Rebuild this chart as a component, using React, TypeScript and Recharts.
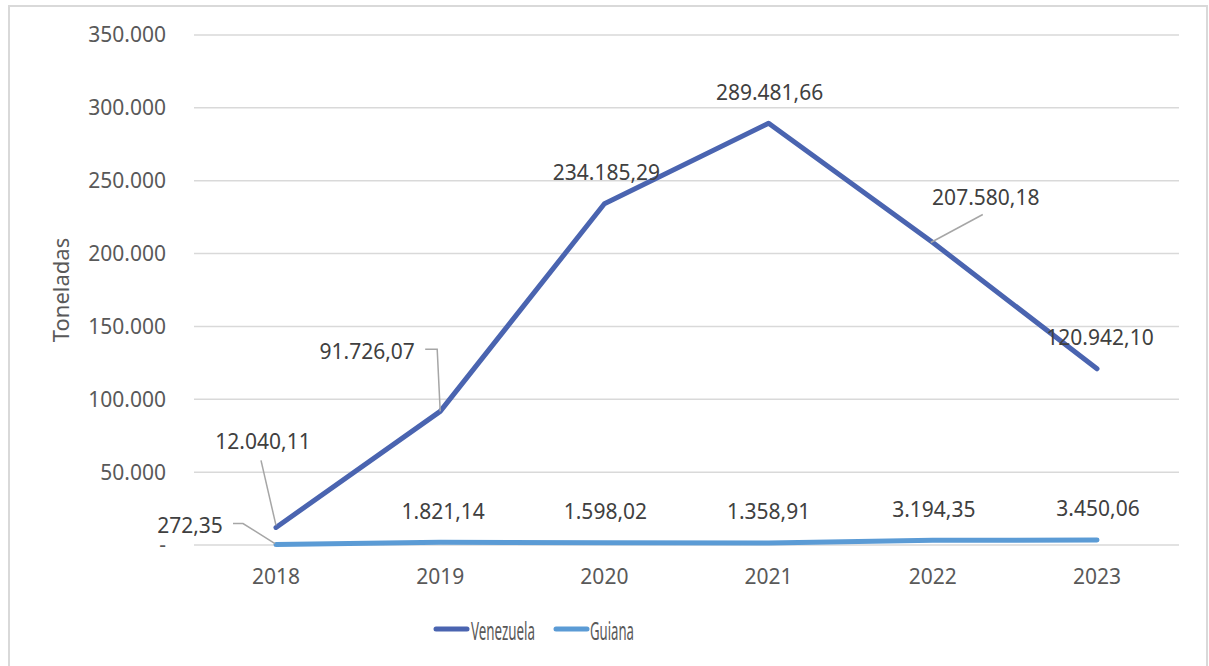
import React from "react";
import {
  LineChart,
  Line,
  XAxis,
  YAxis,
  CartesianGrid,
  Legend,
} from "recharts";

const years = ["2018", "2019", "2020", "2021", "2022", "2023"];
const venezuela = [12040.11, 91726.07, 234185.29, 289481.66, 207580.18, 120942.1];
const guiana = [272.35, 1821.14, 1598.02, 1358.91, 3194.35, 3450.06];
const yTicks = [0, 50000, 100000, 150000, 200000, 250000, 300000, 350000];

const data = years.map((y, i) => ({
  year: y,
  Venezuela: venezuela[i],
  Guiana: guiana[i],
}));

const FONT = "'Noto Sans', 'Open Sans', sans-serif";
const VEN_COLOR = "#4A64B0";
const GUI_COLOR = "#5B9BD5";

// label placement relative to the point: [dx, dy, leader path points]
type Place = { dx: number; dy: number; leader?: number[][] };
const venPlace: Place[] = [
  { dx: -13, dy: -86, leader: [[0, -2], [-15, -67]] },
  { dx: -73, dy: -60, leader: [[-15, -62], [-3, -62], [0, 0]] },
  { dx: 2, dy: -32 },
  { dx: 1, dy: -31 },
  { dx: 53, dy: -46, leader: [[50, -28], [-2, 0]] },
  { dx: 3, dy: -32 },
];
const guiPlace: Place[] = [
  { dx: -86, dy: -20, leader: [[-43, -21], [-33, -21], [-1, -1]] },
  { dx: 3, dy: -31 },
  { dx: 1, dy: -32 },
  { dx: 0, dy: -32 },
  { dx: 1, dy: -31 },
  { dx: 1, dy: -32 },
];

const fmtNum = (v: number, dec: number) => {
  const [intPart, decPart] = v.toFixed(dec).split(".");
  const withDots = intPart.replace(/\B(?=(\d{3})+(?!\d))/g, ".");
  return decPart ? `${withDots},${decPart}` : withDots;
};

const makeLabel = (places: Place[]) => (props: any) => {
  const { x, y, index, value } = props;
  const p = places[index];
  if (x == null || y == null || !p) return null;
  return (
    <g key={`lbl-${index}`}>
      {p.leader && (
        <polyline
          points={p.leader.map(([lx, ly]) => `${x + lx},${y + ly}`).join(" ")}
          fill="none"
          stroke="#A6A6A6"
          strokeWidth={1.5}
        />
      )}
      <text
        x={x + p.dx}
        y={y + p.dy}
        textAnchor="middle"
        dominantBaseline="central"
        fill="#404040"
        fontSize={21}
        fontFamily={FONT}
      >
        {fmtNum(value, 2)}
      </text>
    </g>
  );
};

const LegendContent = () => (
  <svg width={240} height={34} style={{ overflow: "visible" }}>
    <line x1={3} y1={15} x2={34} y2={15} stroke={VEN_COLOR} strokeWidth={5} strokeLinecap="round" />
    <text x={38} y={16} dominantBaseline="central" fill="#595959" fontSize={25}
      fontFamily={FONT} textLength={64} lengthAdjust="spacingAndGlyphs">
      Venezuela
    </text>
    <line x1={123} y1={15} x2={154} y2={15} stroke={GUI_COLOR} strokeWidth={5} strokeLinecap="round" />
    <text x={157} y={16} dominantBaseline="central" fill="#595959" fontSize={25}
      fontFamily={FONT} textLength={44} lengthAdjust="spacingAndGlyphs">
      Guiana
    </text>
  </svg>
);

export default function App() {
  return (
    <div
      style={{
        position: "fixed",
        left: 0,
        top: 0,
        width: 1209,
        height: 666,
        overflow: "hidden",
        background: "#fff",
      }}
    >
      <div
        style={{
          position: "absolute",
          left: 8,
          top: 5,
          width: 1200,
          height: 720,
          border: "2px solid #D9D9D9",
          boxSizing: "border-box",
        }}
      />
      <div style={{ position: "absolute", left: 0, top: 0 }}>
        <LineChart
          width={1209}
          height={666}
          data={data}
          margin={{ top: 35, right: 30, bottom: 91, left: 0 }}
        >
          <CartesianGrid vertical={false} stroke="#D9D9D9" strokeWidth={1.5} />
          <XAxis
            dataKey="year"
            height={30}
            padding={{ left: 82, right: 82 }}
            axisLine={false}
            tickLine={false}
            tickSize={0}
            tickMargin={24}
            tick={{ fill: "#595959", fontSize: 21, fontFamily: FONT }}
          />
          <YAxis
            width={194}
            domain={[0, 350000]}
            ticks={yTicks}
            axisLine={false}
            tickLine={false}
            tickSize={0}
            tickMargin={28}
            tickFormatter={(v: number) => (v === 0 ? "-" : fmtNum(v, 0))}
            tick={{ fill: "#595959", fontSize: 21, fontFamily: FONT }}
            label={{
              content: (p: any) => {
                const vb = p.viewBox || {};
                const cy = (vb.y ?? 35) + (vb.height ?? 510) / 2;
                return (
                  <text
                    x={60}
                    y={cy}
                    transform={`rotate(-90, 60, ${cy})`}
                    textAnchor="middle"
                    dominantBaseline="central"
                    fill="#595959"
                    fontSize={22}
                    fontFamily={FONT}
                  >
                    Toneladas
                  </text>
                );
              },
            }}
          />
          <Legend
            layout="horizontal"
            verticalAlign="middle"
            align="center"
            content={() => <LegendContent />}
            wrapperStyle={{ left: 433, top: 614, width: 240, height: 34 }}
          />
          <Line
            type="linear"
            dataKey="Venezuela"
            stroke={VEN_COLOR}
            strokeWidth={5}
            strokeLinecap="round"
            strokeLinejoin="round"
            dot={false}
            activeDot={false}
            isAnimationActive={false}
            label={makeLabel(venPlace)}
          />
          <Line
            type="linear"
            dataKey="Guiana"
            stroke={GUI_COLOR}
            strokeWidth={5}
            strokeLinecap="round"
            strokeLinejoin="round"
            dot={false}
            activeDot={false}
            isAnimationActive={false}
            label={makeLabel(guiPlace)}
          />
        </LineChart>
      </div>
    </div>
  );
}
